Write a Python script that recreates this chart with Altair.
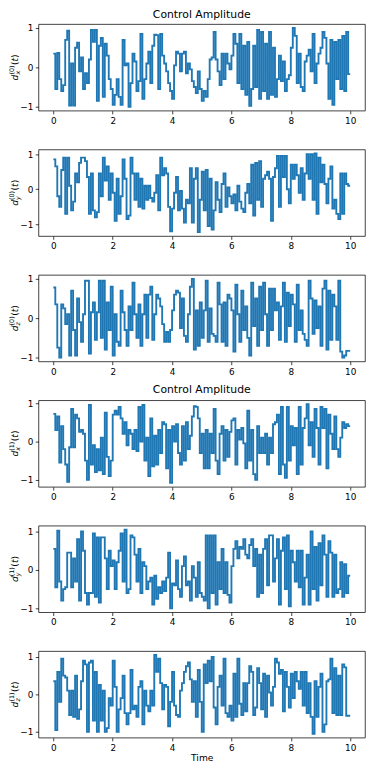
import altair as alt
import pandas as pd

TIME_END = 10
X_TICKS = [0, 2, 4, 6, 8, 10]
Y_TICKS = [-1, 0, 1]
TITLE = "Control Amplitude"

dx0 = [0.35, -0.55, 0.37, -0.3, -0.6, -0.45, 0.7, 0.93, -0.97, 0.1,
       -0.97, 0.5, 0.63, -0.1, 0.25, -0.55, -0.15, -0.4, 0.2, 0.95,
       0.65, 0.95, -0.85, 0.55, 0.75, -0.75, 0.6, 0.3, -0.3, -0.55,
       -0.95, -0.7, -0.3, -0.75, -0.95, 0.7, 0.05, 0.1, -1.0, -0.4,
       0.35, 0.15, -0.6, -0.35, 0.85, -0.8, -0.3, 0.1, 0.4, -0.4,
       0.55, 0.83, 0.82, -0.55, 0.85, 0.3, 0.1, -0.1, -0.4, -0.6,
       -0.8, 0.05, 0.4, 0.35, -0.1, 0.35, 0.4, -0.15, 0.1, -0.05,
       -0.35, -0.5, -0.65, -0.1, -0.55, -0.85, -0.6, -0.75, -0.3, 0.2,
       0.25, 0.9, 0.2, -0.1, -0.45, 0.35, -0.3, 0.35, 0.1, -0.05,
       0.3, 0.85, 0.6, -0.4, 0.85, -0.55, 0.55, -0.7, 0.65, -0.98,
       -0.55, 0.55, -0.5, 0.95, -0.8, 0.9, -0.6, 0.6, -0.8, 0.9,
       -0.7, 0.5, -0.75, -0.3, 0.3, -0.35, 0.15, -0.6, -0.3, -0.2,
       0.5, 1.0, 0.8, -0.4, 0.35, -0.5, -0.6, 0.15, 0.3, 0.45,
       -0.1, 0.85, -0.4, 0.1, 0.35, 0.5, 0.9, 0.75, 0.1, -0.8,
       0.7, -0.95, 0.65, -0.3, 0.7, -0.55, 0.8, -0.6, 0.9, -0.17]

dy0 = [0.85, 0.65, -0.2, -0.5, 0.55, 0.9, -0.7, 0.9, 0.1, -0.6,
       -0.35, 0.45, 0.2, 0.75, 0.9, 0.9, 0.8, 0.35, -0.7, 0.45,
       -0.6, -0.8, -0.65, 0.45, -0.2, 0.9, 0.25, 0.65, -0.3, 0.45,
       -0.1, -0.9, 0.3, -0.7, -0.2, 0.85, 0.3, -0.85, -0.75, 0.9,
       0.45, -0.3, 0.45, -0.5, 0.3, -0.55, 0.1, -0.3, 0.1, -0.25,
       -0.35, -0.1, 0.4, -0.6, 0.9, 0.4, 0.6, 0.45, -0.5, -1.2,
       -0.55, -0.1, 0.35, -0.6, -0.05, -0.55, -0.95, -0.3, -0.4, 0.6,
       -0.95, 0.3, 0.6, -1.22, -0.3, 0.5, -0.6, 0.55, -1.05, 0.3,
       -1.15, -0.6, 0.2, -0.3, -0.65, 0.15, 0.45, -0.5, 0.05, -0.2,
       -0.4, -0.15, -0.6, 0.1, -0.35, -0.55, -0.65, -0.1, 0.15, -0.4,
       0.7, -0.75, 0.75, -0.3, 0.8, -0.5, 0.3, 0.4, 0.5, 0.3,
       -0.9, 0.35, 0.6, 0.95, -0.5, 0.95, 0.35, 0.95, 0.0, -0.4,
       0.7, 0.3, 0.7, 0.4, -0.1, 0.6, -0.3, 0.45, 1.0, 0.3,
       1.0, -0.3, 1.02, -0.7, 0.9, 0.2, 0.7, 0.15, -0.4, 0.3,
       0.65, -0.55, -0.3, -0.7, -0.85, 0.45, -0.7, 0.45, 0.15, 0.1]

dz0 = [0.78, 0.35, -0.75, -1.0, 0.35, 0.25, -0.15, 0.1, -0.95, 0.7,
       -0.3, -0.95, 0.5, -0.1, -0.6, 0.1, 0.95, 0.95, -0.9, 0.15,
       0.4, -0.55, 0.15, 0.95, -0.5, 0.95, -0.8, 0.4, -0.3, 0.8,
       -0.95, 0.1, -0.6, -0.7, 0.7, 0.15, -0.3, -0.7, 0.3, -0.3,
       0.9, 0.1, -0.5, 0.35, -0.7, 0.1, 0.6, -0.5, 0.6, 0.8,
       -0.55, 0.1, 0.6, 0.5, 0.3, -0.15, -0.6, -0.35, -0.6, -0.3,
       0.2, 0.6, 0.7, 0.65, -0.25, 0.5, -0.45, -0.6, 0.1, 0.8,
       1.0, -0.8, 0.2, -0.7, 0.4, -0.5, 0.2, 0.95, -0.6, 0.25,
       -0.4, -0.45, -0.6, 0.9, 0.35, -0.6, 0.4, -0.7, 0.6, 0.5,
       0.2, -0.85, 0.85, 0.1, -0.6, 0.7, -0.3, 0.3, -0.5, -0.95,
       0.9, -0.2, 0.5, -0.7, 0.8, -0.3, 0.9, 0.1, -0.7, 0.75,
       -0.3, 0.75, 0.2, 0.4, -0.55, 0.3, 0.9, -0.6, 0.65, -0.2,
       0.6, 0.35, -0.6, 0.85, -0.3, 0.2, -0.4, -0.55, -0.7, 0.95,
       0.5, -0.4, 0.45, -0.25, 0.3, -0.7, 0.75, 0.95, -0.8, 0.7,
       -0.55, 0.6, 0.3, -0.55, 0.95, -0.85, -1.0, -0.95, -0.83, -0.83]

dx1 = [0.72, 0.3, 0.65, -0.55, 0.4, -0.2, -0.6, -1.05, -0.15, 0.85,
       -0.15, 0.7, 0.6, 0.25, 0.3, 0.2, -0.5, -1.0, 0.95, -0.6,
       -0.1, -0.8, -0.2, -0.75, 0.1, -0.85, 0.75, -0.4, -0.9, -0.5,
       0.7, 0.8, 0.7, 0.9, 0.6, 0.2, 0.5, -0.1, 0.3, 0.2,
       -0.2, 0.3, -0.25, 0.9, 0.0, 0.95, -0.5, 0.1, -0.9, 0.6,
       -0.65, 0.15, -0.6, 0.3, -0.3, 0.5, 0.45, -0.7, 0.3, -1.08,
       0.4, 0.0, 0.45, -0.3, -0.6, 0.4, -0.5, 0.5, -0.2, 0.15,
       0.65, 0.92, 0.9, 0.6, -0.3, 0.2, -0.7, 0.3, -0.7, 0.2,
       -0.3, 0.85, -0.5, -0.85, 0.2, 0.4, -0.5, 0.3, -0.4, 0.25,
       0.55, 0.6, -0.6, 0.3, 0.05, 0.35, -0.05, -0.7, 0.8, -0.5,
       0.3, -0.85, -1.0, 0.4, -0.3, 0.1, -0.3, 0.2, -0.6, 0.1,
       -0.3, 0.45, 0.5, 0.7, -0.85, 0.9, -0.6, -0.95, 0.9, -0.5,
       0.4, -0.1, 0.35, -0.85, 0.9, -0.6, 0.35, 0.6, 0.97, -0.1,
       0.5, -0.4, 0.85, 0.35, -0.6, 0.9, 0.35, 0.85, -0.7, 0.7,
       0.2, -0.2, 0.65, -0.2, -0.4, 0.1, 0.5, 0.35, 0.45, 0.4]

dy1 = [0.55, -0.45, 1.02, -0.3, -0.8, -0.5, -0.45, 0.45, 0.45, -0.45,
       0.3, -0.3, 0.8, -0.8, 1.0, 0.5, -0.6, -0.9, -0.6, -0.6,
       0.95, -0.7, 0.85, -0.85, 0.85, 0.85, 0.3, -0.5, 0.5, 0.1,
       0.25, -0.5, 0.2, 0.5, 0.95, -0.3, 1.05, -0.6, -0.5, 0.9,
       0.85, 0.4, -0.3, 0.55, -0.6, 0.2, 0.1, -0.5, -0.3, -0.2,
       -0.9, -0.15, -0.75, -0.45, -0.6, -0.3, -0.55, -0.2, 0.45, -1.0,
       -0.35, -0.4, 0.25, -0.5, -0.7, 0.1, 0.35, -0.4, -0.3, -0.8,
       0.1, -0.2, -0.7, 0.2, -0.6, -0.7, -0.8, 0.9, -1.0, 0.9,
       -0.6, 0.9, -0.9, 0.2, -0.5, 0.55, -0.6, 0.2, -0.65, -0.85,
       0.1, 0.55, 0.75, 0.3, 0.6, 0.55, 0.8, 0.4, 0.3, 0.65,
       0.8, 0.1, 0.55, -0.7, 0.4, -0.6, 0.55, 0.8, -0.4, 0.9,
       0.9, -0.3, 0.3, 0.8, -0.9, 0.5, 0.85, -0.5, 0.9, -0.95,
       0.5, 0.2, -0.3, 0.5, -0.45, 0.5, -0.9, -0.2, 0.4, -0.9,
       1.0, -0.5, 0.6, -0.8, 0.7, -0.4, 0.9, 0.4, -0.7, 0.75,
       0.45, -0.7, 0.4, -0.6, -0.5, 0.2, -0.7, 0.15, -0.6, -0.15]

dz1 = [0.35, -0.95, 0.6, -0.2, 0.95, 0.5, 0.45, 0.1, -0.55, 0.1,
       -0.6, 0.5, -0.65, -0.4, 0.35, 0.9, 0.8, -1.0, 0.85, 0.9,
       -0.7, 0.6, -1.0, 0.25, -0.7, 0.1, -1.0, -0.9, -0.1, -0.3,
       0.9, 0.2, -1.0, -0.4, -0.1, 0.5, -0.5, -0.8, -0.5, 0.65,
       -0.4, -0.3, -0.6, 0.2, 0.35, -0.8, 0.1, -0.3, -0.45, 0.1,
       -0.3, 1.05, 0.6, 0.95, 0.3, -0.4, 0.25, 0.2, -0.85, -0.2,
       0.6, -0.3, -0.55, -0.6, 0.1, 0.3, 0.6, 0.75, 0.85, 0.4,
       -0.2, 0.35, -0.6, 0.65, -0.2, -1.0, 0.8, 0.3, 0.9, 0.35,
       1.0, -0.35, -0.8, 0.2, 0.5, -0.3, 0.95, -0.5, -0.6, -0.3,
       -0.7, 0.55, -0.6, 0.95, -0.25, -0.55, 0.3, -0.45, 0.3, 0.75,
       0.6, -0.55, -0.35, 0.7, 0.3, -0.4, 0.55, -0.6, 0.5, 0.05,
       -0.3, 0.2, 0.95, 0.85, 0.55, 0.65, -0.45, 0.6, 0.2, -0.35,
       0.55, -0.1, 0.6, 0.35, 0.15, 0.6, -0.3, 0.6, -0.5, 0.3,
       -0.6, -1.05, 0.35, -0.6, 0.2, 0.55, -1.0, -0.8, 0.35, 0.4,
       0.95, -0.5, 0.7, -0.55, 0.5, -0.55, 0.8, 0.72, -0.57, -0.57]

# (component subscript, qubit index, values, show title)
SERIES = [("x", "0", dx0, True), ("y", "0", dy0, False), ("z", "0", dz0, False),
          ("x", "1", dx1, True), ("y", "1", dy1, False), ("z", "1", dz1, False)]

W, H = 332, 88
FONT = "DejaVu Sans"
BLUE = "#1f77b4"
BASE = 9.3
SMALL = 6.5


def label_layers(comp, idx):
    one = pd.DataFrame({"s": [0]})
    cy = H / 2
    d_w = 0.635 * BASE
    sup_w = 1.416 * SMALL
    par_w = 0.39 * BASE
    t_w = 0.392 * BASE
    total = d_w + sup_w + 2 * par_w + t_w + 0.5
    y0 = cy + total / 2
    y1 = y0 - d_w
    y2 = y1 - sup_w - 0.5
    pieces = [
        ("d", BASE, "italic", -21, y0),
        ("(" + idx + ")", SMALL, "normal", -24.5, y1),
        (comp, SMALL, "italic", -18.6, y1),
        ("(", BASE, "normal", -21, y2),
        ("t", BASE, "italic", -21, y2 - par_w),
        (")", BASE, "normal", -21, y2 - par_w - t_w),
    ]
    out = []
    for txt, size, style, x, y in pieces:
        out.append(
            alt.Chart(one).mark_text(
                text=txt, font=FONT, fontSize=size, fontStyle=style,
                angle=270, align="left", baseline="alphabetic", color="black",
            ).encode(x=alt.value(x), y=alt.value(y))
        )
    return out


panels = []
for i, (comp, idx, vals, show_title) in enumerate(SERIES):
    n = len(vals)
    dt = TIME_END / n
    df = pd.DataFrame({
        "t": [k * dt for k in range(n)] + [TIME_END],
        "v": list(vals) + [vals[-1]],
    })
    lo, hi = min(vals), max(vals)
    pad = 0.05 * (hi - lo)
    last = i == len(SERIES) - 1
    x_axis = alt.Axis(values=X_TICKS, format="d", title="Time") if last else \
        alt.Axis(values=X_TICKS, format="d", title=None)
    line = alt.Chart(df).mark_line(
        interpolate="step-after", color=BLUE, strokeWidth=1.9
    ).encode(
        x=alt.X("t:Q", scale=alt.Scale(domain=[-0.5, 10.5], nice=False, zero=False), axis=x_axis),
        y=alt.Y("v:Q", scale=alt.Scale(domain=[lo - pad, hi + pad], nice=False, zero=False),
                axis=alt.Axis(values=Y_TICKS, format="d", title=None)),
    )
    layer = alt.layer(line, *label_layers(comp, idx))
    props = dict(width=W, height=H)
    if show_title:
        props["title"] = alt.Title(TITLE, font=FONT, fontSize=11, fontWeight="normal",
                                   color="black", offset=4, anchor="middle")
    panels.append(layer.properties(**props))

chart = alt.vconcat(*panels, spacing=39.5, bounds="flush").properties(
    padding={"left": 1, "top": -6, "right": 0, "bottom": 0}
).configure_view(
    stroke="black", strokeWidth=0.75
).configure_axis(
    domain=False, grid=False, ticks=True, tickColor="black", tickSize=3.3, tickWidth=0.75,
    labelFont=FONT, labelFontSize=9, labelColor="black", labelPadding=2.5,
    titleFont=FONT, titleFontSize=9.3, titleFontWeight="normal", titleColor="black",
    titlePadding=1
)

chart.save("out.html", embed_options={"renderer": "svg", "actions": False})
